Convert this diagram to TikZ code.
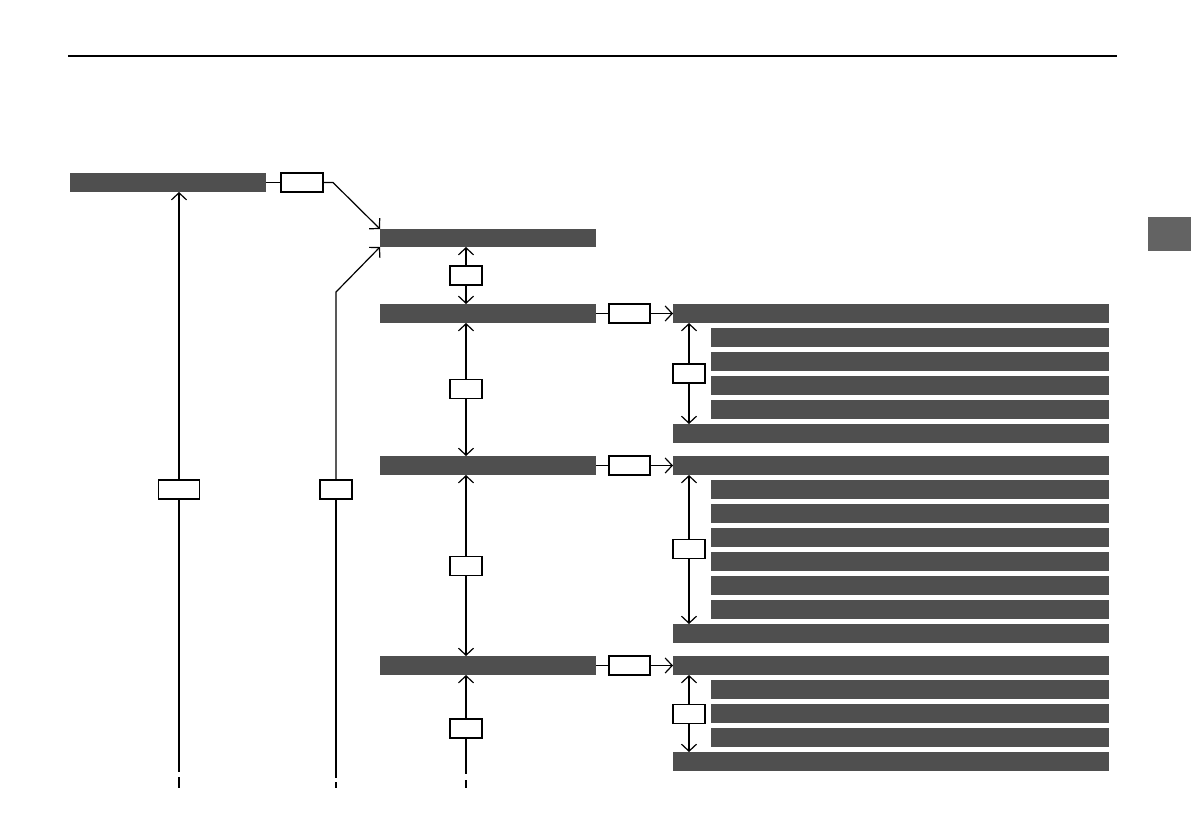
\documentclass[tikz,border=0pt]{standalone}
\usetikzlibrary{arrows.meta}
\definecolor{barc}{HTML}{4F4F4F}
\definecolor{tabc}{HTML}{636363}
\begin{document}
\begin{tikzpicture}[x=1pt,y=-1pt,
  bar/.style={fill=barc, draw=none, inner sep=0pt, outer sep=0pt, anchor=north west, minimum height=19pt},
  lbl/.style={draw, fill=white, line width=1.2pt, inner sep=0pt, outer sep=0pt, minimum height=19pt},
  ln/.style={line width=1.2pt},
  arr/.style={ln, -{Straight Barb[length=7pt,width=15pt,line width=1.2pt]}}]
\useasboundingbox (0,0) rectangle (1191,839);
% header rule and side tab
\draw[ln] (68,56) -- (1117,56);
\fill[tabc] (1148,217) rectangle (1191,251);
% left column
\node[bar, minimum width=196pt] (A) at (70,173) {};
\node[lbl, minimum width=42pt] (lA) at (302,182.5) {};
\node[bar, minimum width=216pt, minimum height=18pt] (B) at (380,229) {};
\node[bar, minimum width=216pt] (C1) at (380,304) {};
\node[bar, minimum width=216pt] (C2) at (380,456) {};
\node[bar, minimum width=216pt] (C3) at (380,656) {};
% right groups
\node[bar, minimum width=436pt] (R1) at (673,304) {};
\node[bar, minimum width=398pt] (R1a) at (711,328) {};
\node[bar, minimum width=398pt] (R1b) at (711,352) {};
\node[bar, minimum width=398pt] (R1c) at (711,376) {};
\node[bar, minimum width=398pt] (R1d) at (711,400) {};
\node[bar, minimum width=436pt] (R1e) at (673,424) {};
\node[bar, minimum width=436pt] (R2) at (673,456) {};
\node[bar, minimum width=398pt] (R2a) at (711,480) {};
\node[bar, minimum width=398pt] (R2b) at (711,504) {};
\node[bar, minimum width=398pt] (R2c) at (711,528) {};
\node[bar, minimum width=398pt] (R2d) at (711,552) {};
\node[bar, minimum width=398pt] (R2e) at (711,576) {};
\node[bar, minimum width=398pt] (R2f) at (711,600) {};
\node[bar, minimum width=436pt] (R2g) at (673,624) {};
\node[bar, minimum width=436pt] (R3) at (673,656) {};
\node[bar, minimum width=398pt] (R3a) at (711,680) {};
\node[bar, minimum width=398pt] (R3b) at (711,704) {};
\node[bar, minimum width=398pt] (R3c) at (711,728) {};
\node[bar, minimum width=436pt] (R3e) at (673,752) {};
% small label boxes
\node[lbl, minimum width=41pt] (lL) at (179,489.5) {};
\node[lbl, minimum width=32pt] (lM) at (336,489.5) {};
\node[lbl, minimum width=32pt] (m1) at (466,275.5) {};
\node[lbl, minimum width=32pt] (m2) at (466,389) {};
\node[lbl, minimum width=32pt] (m3) at (466,566) {};
\node[lbl, minimum width=32pt] (m4) at (466,728.5) {};
\node[lbl, minimum width=41pt] (r1) at (629.5,313.5) {};
\node[lbl, minimum width=41pt] (r2) at (629.5,465.5) {};
\node[lbl, minimum width=41pt] (r3) at (629.5,665.5) {};
\node[lbl, minimum width=32pt] (k1) at (689,373.5) {};
\node[lbl, minimum width=32pt] (k2) at (689,549) {};
\node[lbl, minimum width=32pt] (k3) at (689,714) {};
% free ends
\coordinate (eL) at (179,772);
\coordinate (eM) at (336,778);
\coordinate (eC) at (466,774);
\coordinate (dL1) at (179,777); \coordinate (dL2) at (179,788);
\coordinate (dM1) at (336,782); \coordinate (dM2) at (336,788);
\coordinate (dC1) at (466,780); \coordinate (dC2) at (466,788);
% connectors top
\draw[ln] (A.east) -- (lA.west);
\draw[arr] (lA.east) -- ++(10,0) -- (B.north west);
\draw[arr] (lM.north) -- (336,292) -- (B.south west);
\draw[ln] (lM.south) -- (eM);
\draw[arr] (lL.north) -- (lL.north |- A.south);
\draw[ln] (lL.south) -- (eL);
% middle column
\draw[arr] (m1.north) -- (m1.north |- B.south);
\draw[arr] (m1.south) -- (m1.south |- C1.north);
\draw[arr] (m2.north) -- (m2.north |- C1.south);
\draw[arr] (m2.south) -- (m2.south |- C2.north);
\draw[arr] (m3.north) -- (m3.north |- C2.south);
\draw[arr] (m3.south) -- (m3.south |- C3.north);
\draw[arr] (m4.north) -- (m4.north |- C3.south);
\draw[ln] (m4.south) -- (eC);
% to right groups
\draw[ln] (C1.east) -- (r1.west);
\draw[arr] (r1.east) -- (R1.west);
\draw[ln] (C2.east) -- (r2.west);
\draw[arr] (r2.east) -- (R2.west);
\draw[ln] (C3.east) -- (r3.west);
\draw[arr] (r3.east) -- (R3.west);
% right group scroll arrows
\draw[arr] (k1.north) -- (k1.north |- R1.south);
\draw[arr] (k1.south) -- (k1.south |- R1e.north);
\draw[arr] (k2.north) -- (k2.north |- R2.south);
\draw[arr] (k2.south) -- (k2.south |- R2g.north);
\draw[arr] (k3.north) -- (k3.north |- R3.south);
\draw[arr] (k3.south) -- (k3.south |- R3e.north);
% bottom broken ends
\draw[ln] (dL1) -- (dL2);
\draw[ln] (dM1) -- (dM2);
\draw[ln] (dC1) -- (dC2);
\end{tikzpicture}
\end{document}
